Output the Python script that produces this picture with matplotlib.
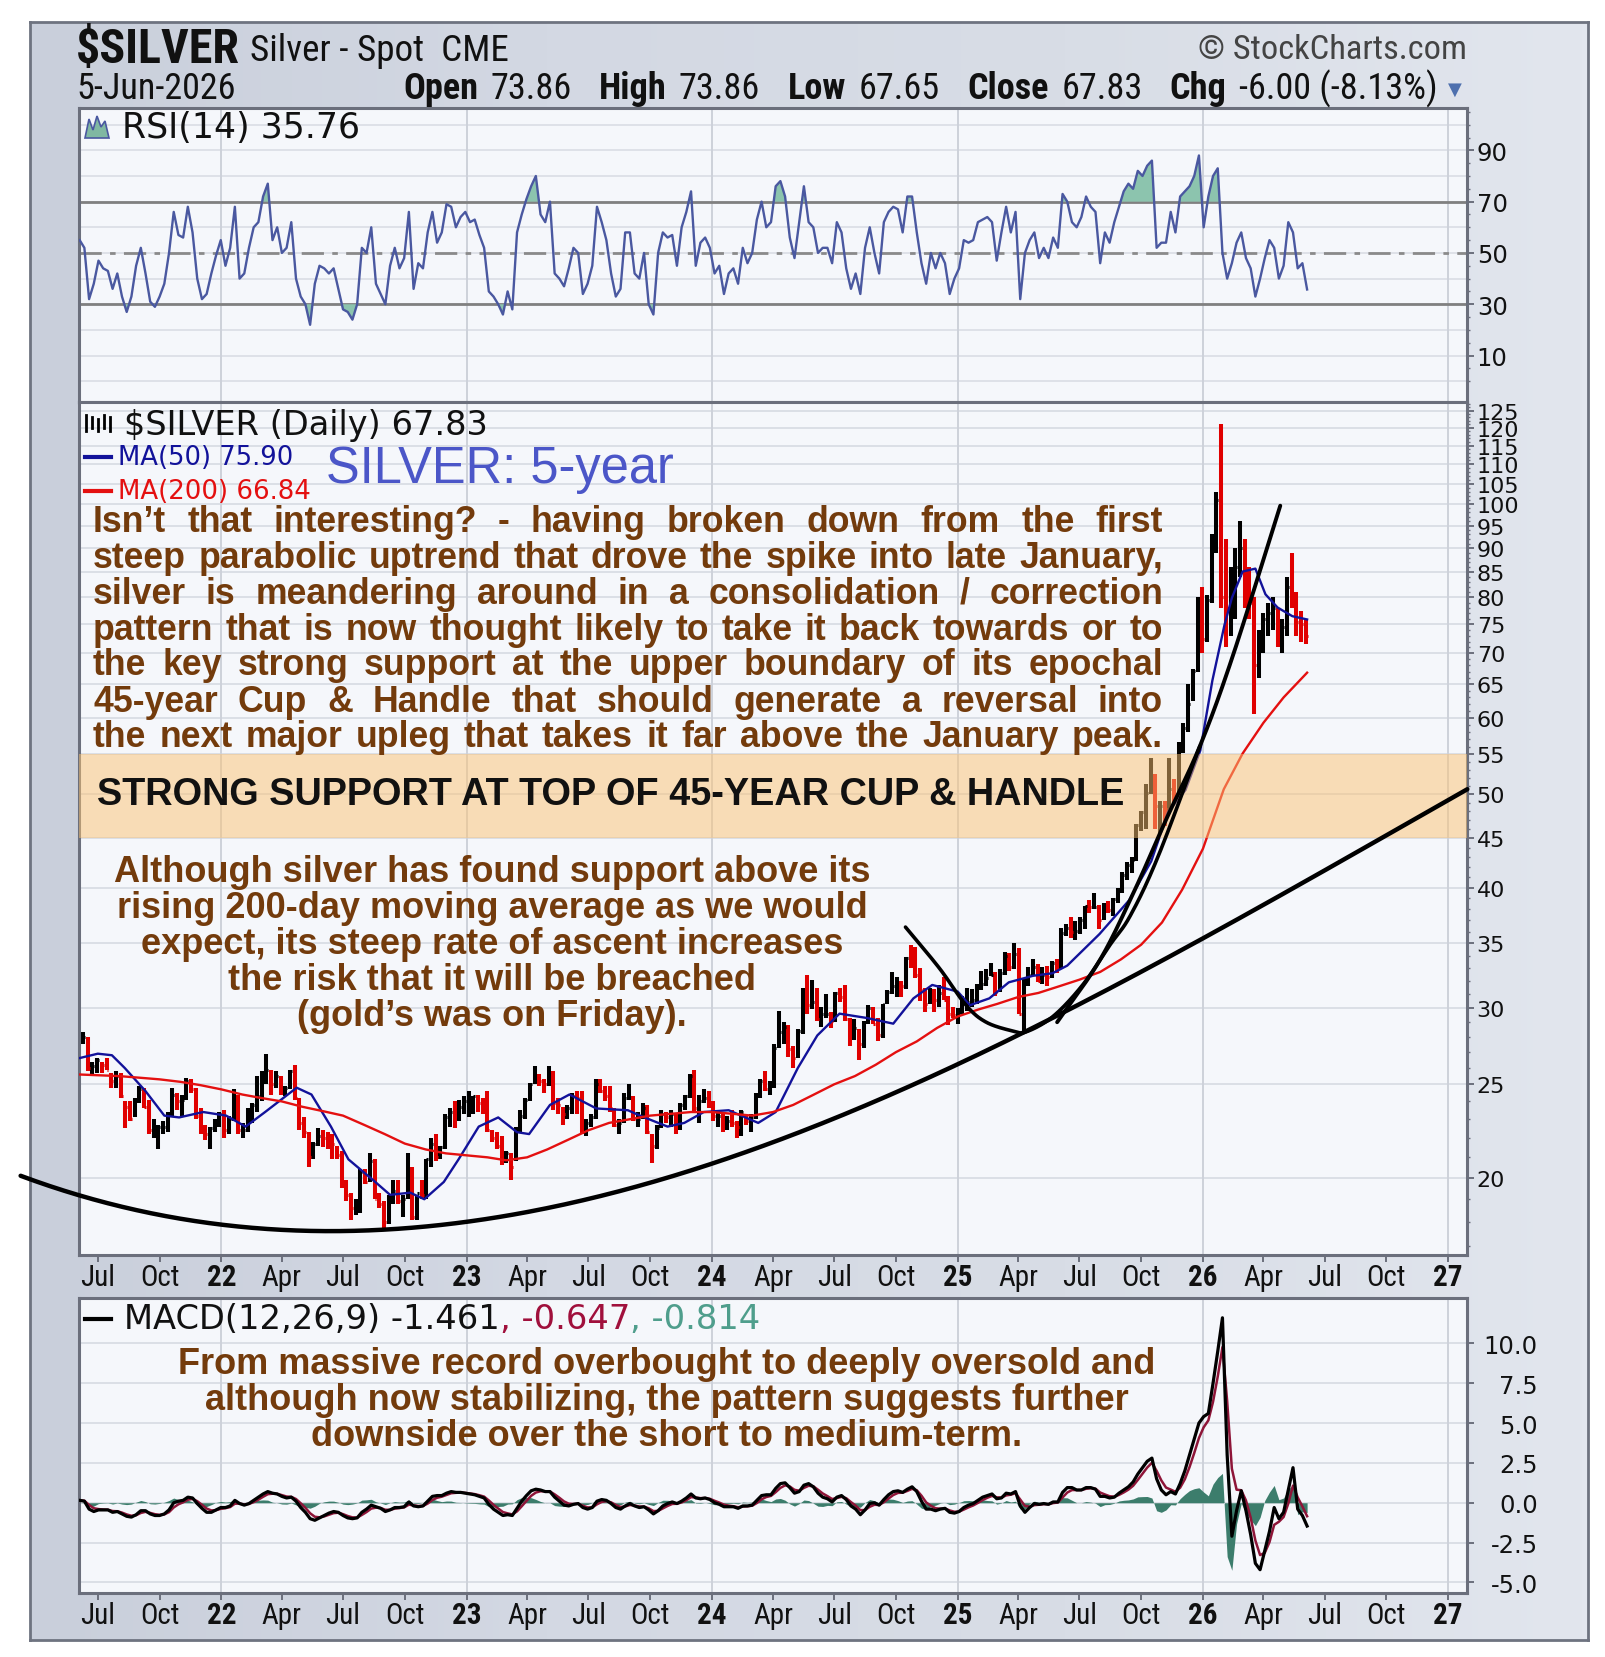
import numpy as np
import pandas as pd
import matplotlib
matplotlib.use("Agg")
import matplotlib.pyplot as plt
import matplotlib.dates as mdates
from matplotlib import font_manager as fm
from matplotlib.font_manager import FontProperties
from matplotlib.colors import LinearSegmentedColormap
from matplotlib.lines import Line2D
from matplotlib.patches import Polygon
from matplotlib.ticker import FixedLocator, FixedFormatter, NullFormatter

# ---------------------------------------------------------------- data
# weekly bars (high, low, close), one per Friday starting 2021-06-04
bars_2021 = [(28.3,27.4,27.9),(28.3,27.5,28.0),(28.0,25.8,26.0),(26.4,25.6,26.1),
             (26.6,25.7,26.5),(26.4,25.7,26.2),(26.6,25.9,25.9),(25.7,24.8,25.2),(25.8,24.8,25.5),
             (25.7,24.2,24.3),(24.0,22.5,23.7),(24.0,22.9,23.0),(24.2,23.1,24.0),
             (24.9,23.9,24.7),(24.8,23.6,23.7),(24.1,22.2,22.4),(23.0,22.0,22.5),
             (22.7,21.4,22.6),(22.9,22.2,22.6),(23.4,22.3,23.3),(24.8,23.2,24.4),(24.5,23.5,24.0),
             (24.4,23.2,24.1),(25.4,24.1,25.2),(25.3,24.5,24.7),(24.8,23.0,23.2),
             (23.6,22.2,22.5),(22.7,21.9,22.2),(22.6,21.4,22.5),(23.0,22.3,22.9),(23.4,22.6,23.3)]
bars_2022 = [(23.5,22.0,22.4),(23.2,22.2,23.0),(24.7,22.9,24.3),(24.4,22.2,22.4),
             (22.8,22.0,22.4),(23.6,22.3,23.0),(23.9,22.8,23.8),(25.5,23.4,24.3),
             (25.8,24.0,25.7),(26.9,25.0,25.9),(25.9,24.4,25.0),(25.8,24.8,25.5),
             (25.5,24.4,24.7),(24.9,24.3,24.8),(25.9,24.7,25.8),(26.2,24.1,24.2),(24.2,22.4,22.8),
             (23.1,22.0,22.3),(22.3,20.5,21.0),(21.8,20.9,21.7),(22.5,21.6,22.1),
             (22.4,21.5,22.0),(22.3,21.4,21.9),(22.2,20.9,21.7),(21.6,20.9,21.1),
             (21.3,19.5,19.8),(19.9,18.9,19.2),(19.3,18.1,18.6),(19.0,18.3,18.6),(20.4,18.4,20.3),
             (20.4,19.7,19.8),(21.2,19.8,20.8),(20.9,19.0,19.0),(19.3,18.6,18.8),
             (18.9,17.6,18.0),(19.2,17.9,18.9),(19.9,18.8,19.4),(19.9,18.8,18.9),(19.2,18.2,19.0),
             (21.2,19.0,20.1),(20.5,18.1,18.2),(19.2,18.1,19.3),(19.9,19.0,19.2),
             (20.9,19.0,20.9),(22.0,20.5,21.7),(22.2,20.8,21.0),(21.6,20.9,21.5),
             (23.3,21.4,23.1),(23.6,22.6,23.4),(24.0,22.5,23.2),(24.1,22.9,23.7),(24.3,23.3,24.0)]
bars_2023 = [(24.6,23.1,24.0),(24.3,23.3,24.3),(24.4,23.4,23.9),(24.2,23.3,23.6),
             (24.6,22.3,22.4),(22.4,21.8,22.0),(22.3,21.4,21.6),(22.1,20.6,20.8),
             (21.3,20.7,21.2),(21.2,19.9,20.5),(22.6,20.8,22.5),(23.5,22.3,23.2),(24.2,23.0,24.1),
             (25.1,24.0,25.0),(26.1,25.0,25.3),(25.6,24.9,25.2),(25.3,24.5,25.0),
             (26.1,24.9,25.6),(25.8,23.5,23.9),(24.2,23.3,23.8),(23.7,22.7,23.3),
             (23.8,23.0,23.6),(24.5,23.3,24.3),(24.6,23.3,24.2),(24.6,22.2,22.4),(23.0,22.1,22.8),
             (23.3,22.6,23.1),(25.3,23.0,25.0),(25.3,24.5,24.6),(24.9,24.0,24.3),
             (24.9,23.4,23.6),(23.6,22.6,22.7),(23.0,22.2,22.8),(24.5,22.8,24.2),
             (25.0,24.1,24.2),(24.3,22.9,23.0),(23.4,22.6,23.0),(23.9,23.0,23.6),(23.8,22.2,22.3),
             (22.2,20.7,21.6),(22.7,21.4,22.5),(23.5,22.5,23.3),(23.4,22.8,23.1),
             (23.5,22.6,23.3),(23.3,22.2,22.4),(23.9,22.4,23.8),(24.4,23.5,24.3),
             (25.6,24.2,25.5),(25.9,23.4,23.6),(24.4,22.8,24.0),(24.7,23.9,24.2),(24.6,23.6,23.8)]
bars_2024 = [(24.0,22.9,23.2),(23.4,22.6,23.2),(23.3,22.3,22.6),(23.2,22.4,22.9),
             (23.5,22.6,22.8),(22.9,22.0,22.6),(23.5,22.1,23.4),(23.2,22.7,22.9),
             (23.3,22.3,23.1),(24.5,23.0,24.3),(25.3,24.2,25.2),(25.8,24.6,24.7),(25.2,24.4,25.0),
             (27.5,24.8,27.3),(29.8,27.3,28.3),(29.0,27.5,28.7),(28.8,26.7,27.2),
             (27.4,26.0,26.6),(28.5,26.6,28.4),(31.5,28.2,31.3),(32.5,29.6,30.2),(32.1,29.9,30.4),
             (31.5,29.1,29.2),(30.1,28.7,29.6),(31.0,29.3,29.6),(29.7,28.6,29.1),
             (31.2,29.0,31.1),(31.5,30.4,30.8),(31.7,29.1,29.2),(29.3,27.4,28.0),
             (29.2,27.8,28.6),(28.5,26.5,27.5),(29.1,27.3,29.0),(30.2,28.9,30.0),(30.1,28.9,28.9),
             (29.3,27.7,28.1),(30.3,27.9,30.3),(31.3,30.3,31.2),(32.7,31.0,31.6),
             (32.3,30.8,32.2),(32.0,30.8,31.6),(33.9,31.4,33.8),(34.9,33.0,33.7),
             (34.7,32.2,32.5),(33.0,30.5,31.3),(31.5,29.7,30.3),(31.5,30.3,31.3),(31.4,29.7,30.6),
             (31.7,30.1,31.1),(32.3,30.6,30.6),(30.9,28.8,29.6),(30.1,29.3,29.5)]
bars_2025 = [(30.0,28.9,29.6),(30.9,29.6,30.4),(31.5,29.8,30.4),(31.4,30.1,30.6),(31.8,30.3,31.3),
             (32.8,31.3,31.8),(32.9,31.6,32.2),(33.4,32.4,32.5),(32.7,30.9,31.2),
             (32.9,31.2,32.6),(34.3,32.5,34.0),(34.2,32.8,33.1),(35.0,32.9,34.1),
             (34.6,29.6,29.6),(32.2,28.3,32.0),(33.1,31.6,32.5),(33.7,32.4,33.1),
             (33.3,31.9,32.0),(33.1,31.8,32.5),(33.2,31.6,32.3),(33.6,32.2,33.4),(33.7,32.6,33.0),
             (36.3,32.9,35.9),(36.7,35.6,36.3),(37.3,35.5,36.0),(36.9,35.3,36.1),
             (37.3,35.8,37.0),(38.3,36.2,38.3),(38.8,37.6,38.2),(39.5,38.0,38.2),
             (38.4,36.2,37.0),(38.6,37.0,38.3),(38.7,37.6,37.9),(39.0,37.4,38.9),(40.0,38.6,39.7),
             (41.5,39.5,41.2),(42.5,40.7,42.2),(43.0,41.4,42.7),(46.6,42.6,46.4),
             (48.0,45.8,47.9),(51.2,46.0,50.1),(54.5,50.0,51.2),(52.5,46.0,48.6),(49.2,45.5,48.6),
             (49.2,46.3,48.3),(54.5,47.8,50.6),(51.9,49.0,50.0),(56.7,49.5,56.4),
             (59.3,55.2,58.5),(65.0,58.0,62.0),(67.5,62.5,67.1),(80.0,67.0,79.0)]
bars_2026 = [(82.0,70.0,72.5),(80.5,72.0,79.5),(93.0,79.0,90.0),(103.0,89.0,101.0),(121.0,78.0,80.0),
             (92.0,71.0,78.0),(86.0,73.0,82.0),(90.0,76.0,86.0),(96.0,84.0,90.0),
             (92.0,78.0,82.0),(86.0,76.0,79.0),(80.0,60.5,68.0),(74.0,66.0,72.0),
             (77.0,70.0,76.0),(79.0,73.0,77.0),(80.0,74.0,78.0),(78.0,71.0,73.0),
             (76.0,70.0,74.5),(84.0,73.0,82.0),(89.0,78.0,80.0),(81.0,73.0,75.5),(77.5,72.0,75.0),
             (76.0,71.5,73.0)]

# weekly RSI(14)
rsi_2021 = [55,52,32,38, 47,44,43,36,42, 33,27,33,45, 52,42,31,29, 33,38,50,66,57,
            56,68,58,40, 32,34,42,49,55]
rsi_2022 = [45,52,68,40, 42,52,60,62, 72,77,55,60, 50,52,62,40,33, 30,22,38,45,
            44,42,44,36, 28,27,24,30,52, 50,60,38,34, 30,45,52,44,48, 66,36,46,44,
            58,66,54,58, 69,68,60,64,66]
rsi_2023 = [62,63,57,52, 35,33,30,26, 35,28,58,65,71, 76,80,65,62, 70,42,40,37,
            44,52,50,34,38, 45,68,62,55, 42,33,36,58, 58,42,40,50,30, 26,50,58,56,
            57,45,60,66, 74,45,54,56,52]
rsi_2024 = [42,45,34,42, 44,38,52,46, 50,63,70,60,62, 76,78,72,56, 48,62,76,62,60,
            50,52,52,46, 62,58,44,36, 42,34,52,60,50, 42,62,66,68, 67,58,72,72,
            58,46,38,50,44, 50,46,34,40]
rsi_2025 = [44,55,54,55,62, 63,64,62,47, 58,68,58,66, 32,50,55,58, 48,52,48,56,52,
            73,70,62,60, 64,72,68,66, 46,58,54,62,68, 74,77,75,82, 80,84,86,52,54,
            54,66,58,72, 74,76,80,88]
rsi_2026 = [60,72,80,83,50, 40,46,54,58, 48,44,33,40, 48,55,52,40, 45,62,58,44,46, 35.76]

# weekly MACD(12,26,9) line
macd_2021 = [0.15,0.1,-0.4,-0.55, -0.45,-0.45,-0.45,-0.6,-0.55, -0.7,-0.85,-0.9,-0.75,
             -0.5,-0.5,-0.7,-0.8, -0.8,-0.7,-0.45,0.0,0.1, 0.15,0.35,0.3,-0.05,
             -0.35,-0.6,-0.6,-0.45,-0.3]
macd_2022 = [-0.3,-0.2,0.15,-0.05, -0.15,-0.05,0.15,0.35, 0.55,0.7,0.6,0.55,
             0.4,0.3,0.35,0.1,-0.3, -0.6,-1.0,-1.1,-0.95, -0.8,-0.65,-0.55,-0.6,
             -0.8,-0.95,-1.0,-0.95,-0.6, -0.4,-0.15,-0.25,-0.35, -0.55,-0.45,-0.3,-0.3,-0.25,
             0.05,-0.2,-0.25,-0.2, 0.1,0.4,0.45,0.45, 0.6,0.7,0.65,0.65,0.6]
macd_2023 = [0.55,0.5,0.4,0.3, -0.1,-0.4,-0.6,-0.8, -0.75,-0.8,-0.35,0.1,0.45,
             0.75,0.85,0.8,0.7, 0.7,0.35,0.1,-0.15, -0.2,-0.1,-0.05,-0.3,-0.4,
             -0.3,0.1,0.2,0.15, -0.05,-0.3,-0.4,-0.2, -0.05,-0.2,-0.3,-0.25,-0.45,
             -0.7,-0.5,-0.2,-0.05, 0.05,-0.05,0.1,0.3, 0.55,0.3,0.25,0.3,0.2]
macd_2024 = [0.0,-0.1,-0.25,-0.25, -0.25,-0.35,-0.2,-0.2, -0.15,0.15,0.45,0.5,0.5,
             0.9,1.2,1.25,0.95, 0.6,0.7,1.1,1.2,1.0, 0.6,0.35,0.25,0.05,
             0.35,0.45,0.2,-0.2, -0.4,-0.75,-0.45,-0.05,0.0, -0.15,0.2,0.5,0.7,
             0.75,0.65,0.85,1.0, 0.7,0.1,-0.4,-0.4,-0.5, -0.4,-0.35,-0.6,-0.65]
macd_2025 = [-0.55,-0.3,-0.15,-0.05,0.15, 0.35,0.45,0.55,0.25, 0.3,0.6,0.55,0.7,
             -0.2,-0.6,-0.3,-0.05, -0.1,-0.05,-0.1,0.05,0.05, 0.65,0.95,0.95,0.8,
             0.8,0.95,0.95,0.85, 0.4,0.4,0.3,0.35,0.6, 0.8,1.0,1.3,1.8,
             2.2,2.6,2.8,1.5,0.8, 0.5,0.7,0.55,1.2, 2.0,3.0,4.0,5.0]
macd_2026 = [5.4,5.6,7.5,9.5,11.6, 3.0,-2.1,-0.5,0.75, -0.5,-2.0,-3.8,-4.2,
             -3.0,-1.8,-0.3,-1.0, -0.6,0.8,2.2,-0.4,-0.8, -1.461]

# moving averages
ma50_dates = ["2021-06-02","2021-07-01","2021-07-22","2021-08-10","2021-09-10","2021-10-08",
              "2021-10-30","2021-12-05","2022-01-08","2022-02-06","2022-03-07","2022-04-23",
              "2022-05-15","2022-06-13","2022-07-09","2022-08-18","2022-09-09","2022-10-09",
              "2022-10-30","2022-11-28","2022-12-20","2023-01-19","2023-02-17","2023-03-17",
              "2023-04-04","2023-05-05","2023-06-03","2023-07-13","2023-08-29","2023-09-16",
              "2023-10-27","2023-11-21","2023-12-20","2024-01-26","2024-03-10","2024-04-05",
              "2024-05-08","2024-06-06","2024-07-09","2024-08-18","2024-09-27","2024-10-27",
              "2024-11-24","2025-01-01","2025-01-19","2025-02-17","2025-03-18","2025-04-23",
              "2025-05-22","2025-06-13","2025-07-31","2025-09-13","2025-10-16","2025-11-10",
              "2025-12-06","2025-12-28","2026-01-15","2026-02-02","2026-02-13","2026-03-01",
              "2026-03-20","2026-04-04","2026-04-22","2026-05-14","2026-06-05"]
ma50_vals = [26.6,26.9,26.8,26.0,24.6,23.2, 23.1,23.4,23.2,22.6,23.4,24.8,
             24.4,22.6,20.9,19.8,19.2,19.3, 19.0,19.8,20.9,22.6,23.1,22.3,
             22.2,23.8,24.4,23.6,23.5,23.2, 22.6,22.8,23.4,23.5,22.8,23.4,
             26.0,28.1,29.6,29.3,28.9,30.7, 31.7,31.2,30.2,30.7,31.9,32.4,
             32.6,33.2,35.8,38.8,42.6,47.9, 50.5,55.5,65.6,74.9,79.9,85.1,
             85.7,80.6,78.1,76.5,75.9]
ma200_vals = [25.6,25.55,25.5,25.4,25.3,25.15,24.95,
              24.7,24.4,24.2,24.0,23.7,23.45,23.2,22.7,22.2,21.7,21.4,21.2,
              21.1,21.0,20.85,21.0,21.4,21.9,22.4,22.8,23.0,23.2,23.3,23.4,
              23.4,23.3,23.2,23.4,23.8,24.4,25.0,25.5,26.2,27.0,27.7,28.6,
              29.4,29.9,30.3,30.8,31.1,31.6,32.1,32.7,33.7,34.9,36.8,39.8,
              43.9,50.6,55.1,59.3,63.0,
              66.84]

# hand-drawn trend curves (decimal year, price)
cup_t = [2021.181,2021.418,2021.957,2022.517,2023.034,2023.509,2024.0,2024.522,
         2024.888,2025.306,2025.703,2026.556,2027.078]
cup_p = [20.10,19.31,17.90,17.41,17.81,19.26,21.09,23.21,25.29,28.70,31.91,42.34,50.9]
handle_t = [2024.789,2024.927,2025.034,2025.116,2025.224,2025.280,2025.388,2025.509,
            2025.621,2025.703,2025.815,2025.987]
handle_p = [36.4,33.0,30.2,29.0,28.4,28.35,29.4,31.7,34.9,37.4,43.0,56.1]
para_t = [2025.405,2025.578,2025.716,2025.853,2025.987,2026.121,2026.315]
para_p = [29.0,33.6,39.5,47.3,56.1,69.5,99.6]

price_ticks = [20,25,30,35,40,45,50,55,60,65,70,75,80,85,90,95,100,105,110,115,120,125]
rsi_ticks = [10,30,50,70,90]
macd_ticks = [-5.0,-2.5,0.0,2.5,5.0,7.5,10.0]

# ---------------------------------------------------------------- assemble
bars = bars_2021 + bars_2022 + bars_2023 + bars_2024 + bars_2025 + bars_2026
high = np.array([b[0] for b in bars])
low = np.array([b[1] for b in bars])
close = np.array([b[2] for b in bars])
rsi = np.array(rsi_2021 + rsi_2022 + rsi_2023 + rsi_2024 + rsi_2025 + rsi_2026, float)
macd = np.array(macd_2021 + macd_2022 + macd_2023 + macd_2024 + macd_2025 + macd_2026, float)
weeks = pd.date_range("2021-06-04", periods=len(close), freq="W-FRI")
signal = pd.Series(macd).ewm(alpha=0.5, adjust=False).mean().values
hist = macd - signal

xw = mdates.date2num(weeks.to_pydatetime())
xbar = xw - 2.0
ma50_x = mdates.date2num(pd.to_datetime(ma50_dates).to_pydatetime())
ma200_dates = list(pd.date_range("2021-06-01", "2026-05-01", freq="MS")) + [pd.Timestamp("2026-06-05")]
ma200_x = mdates.date2num(pd.DatetimeIndex(ma200_dates).to_pydatetime())


def yr2num(y):
    yi = int(np.floor(y))
    return mdates.date2num(pd.Timestamp(yi, 1, 1).to_pydatetime()) + (y - yi) * 365.25


def smooth(xs, ys, n=24):
    P = np.column_stack([xs, ys]).astype(float)
    P = np.vstack([2 * P[0] - P[1], P, 2 * P[-1] - P[-2]])
    out = []
    t = np.linspace(0, 1, n, endpoint=False)[:, None]
    for i in range(1, len(P) - 2):
        p0, p1, p2, p3 = P[i - 1], P[i], P[i + 1], P[i + 2]
        pts = 0.5 * ((2 * p1) + (-p0 + p2) * t + (2 * p0 - 5 * p1 + 4 * p2 - p3) * t ** 2
                     + (-p0 + 3 * p1 - 3 * p2 + p3) * t ** 3)
        out.append(pts)
    out.append(P[-2][None, :])
    A = np.vstack(out)
    return A[:, 0], A[:, 1]


# ---------------------------------------------------------------- fonts
def _is_cond(f):
    st = f.stretch
    if isinstance(st, str):
        return st in ("condensed", "semi-condensed", "extra-condensed", "ultra-condensed")
    try:
        return float(st) < 500
    except Exception:
        return False


def _wt(f):
    w = f.weight
    if isinstance(w, str):
        return {"bold": 700, "normal": 400, "regular": 400, "medium": 500, "semibold": 600,
                "light": 300, "black": 900, "heavy": 800, "book": 400}.get(w.lower(), 400)
    return int(w)


def find_narrow(bold):
    named = ["Liberation Sans Narrow", "Arial Narrow", "Roboto Condensed", "Open Sans Condensed"]
    cands = []
    for f in fm.fontManager.ttflist:
        if f.style != "normal":
            continue
        if f.name in named or _is_cond(f):
            w = _wt(f)
            if bold and w < 600:
                continue
            if (not bold) and not (350 <= w <= 500):
                continue
            if f.name in named:
                rank = named.index(f.name)
            elif f.name in ("Noto Sans", "DejaVu Sans"):
                rank = 5
            else:
                rank = 7
            cands.append((rank, abs(w - (700 if bold else 400)), f.fname))
    if cands:
        cands.sort()
        return cands[0][2]
    return None


NB_PATH = find_narrow(True)
NR_PATH = find_narrow(False)
HAVE_NARROW = NB_PATH is not None and NR_PATH is not None


def nkw(bold):
    if HAVE_NARROW:
        return {"fp": NB_PATH if bold else NR_PATH}
    return {"family": "DejaVu Sans", "weight": "bold" if bold else "normal"}


def nprop(bold, size):
    if HAVE_NARROW:
        return FontProperties(fname=NB_PATH if bold else NR_PATH, size=size)
    return FontProperties(family="DejaVu Sans", weight="bold" if bold else "normal", size=size)


SANS = ["Liberation Sans", "DejaVu Sans"]
PIX = ["DejaVu Sans"]
BROWN = "#733B0C"
EDGE = "#6B6F7C"
FACE = "#F5F7FB"

# ---------------------------------------------------------------- layout
W, H = 1605, 1658
PL, PR = 79, 1467
RSI_T, RSI_B = 109, 403
PRC_T, PRC_B = 403, 1256
MAC_T, MAC_B = 1299, 1594
XMIN = mdates.date2num(pd.Timestamp("2021-06-03").to_pydatetime())
XMAX = mdates.date2num(pd.Timestamp("2027-01-29").to_pydatetime())

fig = plt.figure(figsize=(W / 100, H / 100), dpi=100, facecolor="white")
R = fig.canvas.get_renderer()

bg = fig.add_axes([30 / W, 1 - 1641 / H, (1588 - 30) / W, (1641 - 23) / H], zorder=-10)
cmap = LinearSegmentedColormap.from_list("bg", ["#C9CFDB", "#D3D8E3", "#D8DDE6", "#E2E6EE"])
bg.imshow(np.linspace(0, 1, 256)[None, :], aspect="auto", cmap=cmap, extent=[0, 1, 0, 1])
bg.set_xticks([]); bg.set_yticks([])
for s in bg.spines.values():
    s.set_color("#6E7380"); s.set_linewidth(2.0)


def panel(top, bottom):
    ax = fig.add_axes([PL / W, 1 - bottom / H, (PR - PL) / W, (bottom - top) / H])
    ax.set_facecolor(FACE)
    for s in ax.spines.values():
        s.set_color(EDGE); s.set_linewidth(2.2)
    ax.yaxis.tick_right()
    ax.set_xlim(XMIN, XMAX)
    return ax


ax_r = panel(RSI_T, RSI_B)
ax_p = panel(PRC_T, PRC_B)
ax_m = panel(MAC_T, MAC_B)

quarters = pd.date_range("2021-07-01", "2027-01-01", freq="QS-JAN")
qx = mdates.date2num(quarters.to_pydatetime())
qlab = [("%02d" % (d.year % 100)) if d.month == 1 else d.strftime("%b") for d in quarters]
years = [mdates.date2num(pd.Timestamp(y, 1, 1).to_pydatetime()) for y in range(2022, 2028)]
XLS = 21 if HAVE_NARROW else 18

for ax in (ax_r, ax_p, ax_m):
    for yx in years:
        ax.axvline(yx, color="#CDD1DA", lw=1.4, zorder=0.5)
    ax.set_xticks(qx)
    ax.tick_params(axis="y", which="major", direction="out", length=5, width=1.4,
                   colors=EDGE, labelcolor="#111111", labelsize=17.5, pad=2)
    ax.tick_params(axis="y", which="minor", direction="out", length=2.5, width=1.0, colors=EDGE)
ax_p.tick_params(axis="y", which="major", labelsize=16)

for ax in (ax_p, ax_m):
    ax.set_xticklabels(qlab)
    ax.tick_params(axis="x", direction="out", length=5, width=1.4, colors=EDGE,
                   labelcolor="#111111", pad=1)
    for lbl in ax.get_xticklabels():
        lbl.set_fontproperties(nprop(lbl.get_text().isdigit(), XLS))
ax_r.tick_params(axis="x", length=0, labelbottom=False)

# ---------------- RSI
ax_r.set_ylim(-8.1, 106.5)
for g in range(0, 101, 10):
    ax_r.axhline(g, color="#DCDFE6", lw=1.3, zorder=0.4)
ax_r.axhline(70, color="#808080", lw=2.0, zorder=1)
ax_r.axhline(30, color="#808080", lw=2.0, zorder=1)
ax_r.axhline(50, color="#8A8A8A", lw=2.0, ls=(0, (8, 3, 2, 3)), zorder=1)
ax_r.fill_between(xw, 70, rsi, where=rsi >= 70, interpolate=True, color="#8CC4AE", lw=0, zorder=2)
ax_r.fill_between(xw, 30, rsi, where=rsi <= 30, interpolate=True, color="#8CC4AE", lw=0, zorder=2)
ax_r.plot(xw, rsi, color="#4A58A0", lw=1.7, zorder=3)
ax_r.yaxis.set_major_locator(FixedLocator(rsi_ticks))
ax_r.yaxis.set_major_formatter(FixedFormatter([str(v) for v in rsi_ticks]))
ax_r.yaxis.set_minor_locator(FixedLocator(list(range(0, 106, 5))))

# ---------------- price
ax_p.set_yscale("log")
ax_p.set_ylim(16.63, 127.6)
for p in price_ticks:
    ax_p.axhline(p, color="#D9DDE4", lw=1.3, zorder=0.4)
up = np.r_[True, close[1:] >= close[:-1]]
cols = np.where(up, "#000000", "#E00000")
ax_p.vlines(xbar, low, high, colors=cols, lw=2.9, zorder=2)
ax_p.hlines(close, xbar, xbar + 2.8, colors=cols, lw=2.2, zorder=2)
ax_p.plot(ma50_x, ma50_vals, color="#12129A", lw=1.7, zorder=3)
ax_p.plot(ma200_x, ma200_vals, color="#E41010", lw=1.7, zorder=3)
ax_p.axhspan(45, 55, facecolor="#FCC373", alpha=0.5, lw=0, zorder=4)

ct = np.array([yr2num(t) for t in cup_t])
c0 = ct.mean()
coef = np.polyfit(ct - c0, np.log(cup_p), 3)
cxx = np.linspace(ct[0], ct[-1], 400)
ax_p.plot(cxx, np.exp(np.polyval(coef, cxx - c0)), color="black", lw=3.2, zorder=5,
          clip_on=False, solid_capstyle="round")
hx, hy = smooth([yr2num(t) for t in handle_t], np.log(handle_p))
ax_p.plot(hx, np.exp(hy), color="black", lw=2.6, zorder=5, solid_capstyle="round")
px_, py_ = smooth([yr2num(t) for t in para_t], np.log(para_p))
ax_p.plot(px_, np.exp(py_), color="black", lw=2.8, zorder=5, solid_capstyle="round")

ax_p.yaxis.set_major_locator(FixedLocator(price_ticks))
ax_p.yaxis.set_major_formatter(FixedFormatter([str(v) for v in price_ticks]))
ax_p.yaxis.set_minor_locator(FixedLocator([v for v in range(17, 128) if v not in price_ticks]))
ax_p.yaxis.set_minor_formatter(NullFormatter())

# ---------------- MACD
ax_m.set_ylim(-5.66, 12.84)
for g in macd_ticks:
    ax_m.axhline(g, color="#D9DDE4", lw=1.3, zorder=0.4)
ax_m.fill_between(xw, 0, hist, color="#3C7D6C", lw=0, zorder=2)
ax_m.plot(xw, signal, color="#8E1538", lw=1.8, zorder=3)
ax_m.plot(xw, macd, color="black", lw=2.3, zorder=4)
ax_m.yaxis.set_major_locator(FixedLocator(macd_ticks))
ax_m.yaxis.set_major_formatter(FixedFormatter(["%.1f" % v for v in macd_ticks]))
ax_m.tick_params(axis="y", which="major", pad=46)
for lbl in ax_m.get_yticklabels():
    lbl.set_horizontalalignment("right")

# ---------------------------------------------------------------- text helpers


def txt(s, x, y, size, ha="left", fp=None, **kw):
    if fp is not None:
        return fig.text(x / W, 1 - y / H, s, ha=ha, va="center",
                        fontproperties=FontProperties(fname=fp, size=size), **kw)
    return fig.text(x / W, 1 - y / H, s, fontsize=size, ha=ha, va="center", **kw)


def width_of(s, size, **kw):
    t = txt(s, 0, 0, size, **kw)
    w = t.get_window_extent(R).width
    t.remove()
    return w


def fit(s, x0, x1, y, ha="left", **kw):
    size = 20 * (x1 - x0) / width_of(s, 20, **kw)
    return txt(s, x0 if ha == "left" else (x0 + x1) / 2, y, size, ha=ha, **kw)


def justify(lines, x0, x1, y0, dy, size, **kw):
    for i, line in enumerate(lines):
        y = y0 + i * dy
        words = line.split()
        ts = [txt(w, 0, y, size, **kw) for w in words]
        ws = [t.get_window_extent(R).width for t in ts]
        gap = (x1 - x0 - sum(ws)) / max(len(words) - 1, 1)
        x = x0
        for t, w in zip(ts, ws):
            t.set_x(x / W)
            x += w + gap


def fline(x0, x1, y, color, lw=3.0):
    fig.add_artist(Line2D([x0 / W, x1 / W], [1 - y / H, 1 - y / H], transform=fig.transFigure,
                          color=color, lw=lw))


# ---------------- header
fit("$SILVER", 76, 240, 50, color="#111111", **nkw(True))
fit("Silver - Spot  CME", 250, 508, 51, color="#111111", **nkw(False))
fit("\u00a9 StockCharts.com", 1198, 1467, 50, color="#444444", **nkw(False))
fit("5-Jun-2026", 76, 235, 89, color="#111111", **nkw(False))

pieces = [("Open", True), ("73.86", False), ("High", True), ("73.86", False), ("Low", True),
          ("67.65", False), ("Close", True), ("67.83", False), ("Chg", True), ("-6.00 (-8.13%)", False)]
fs_px = 20 * 100 / 72
ws = [width_of(s, 20, **nkw(b)) for s, b in pieces]
gaps = [0.35 * fs_px if i % 2 == 0 else 0.75 * fs_px for i in range(len(pieces) - 1)]
k = (1438 - 403) / (sum(ws) + sum(gaps))
x = 403
for i, (s, b) in enumerate(pieces):
    txt(s, x, 89, 20 * k, color="#111111", **nkw(b))
    if i < len(gaps):
        x += ws[i] * k + gaps[i] * k
txt("\u25BC", 1448, 90, 13, family=PIX, color="#4E70AE")

# ---------------- legends
fig.add_artist(Polygon([[85 / W, 1 - 139 / H], [89 / W, 1 - 120 / H], [93 / W, 1 - 131 / H],
                        [97 / W, 1 - 117 / H], [101 / W, 1 - 128 / H], [105 / W, 1 - 122 / H],
                        [109 / W, 1 - 139 / H]], closed=True, transform=fig.transFigure,
                       facecolor="#80B8A2", edgecolor="#4A58A0", lw=1.2))
fit("RSI(14) 35.76", 122, 360, 128, family=PIX, color="#111111")

for kk, xx in enumerate([86, 92, 98, 104, 110]):
    fig.add_artist(Line2D([xx / W, xx / W], [1 - (432 - (kk % 2) * 3) / H, 1 - (416 + (kk % 3) * 2) / H],
                          transform=fig.transFigure, color="black", lw=2.0))
fit("$SILVER (Daily) 67.83", 124, 488, 425, family=PIX, color="#111111")
fline(85, 111, 458, "#12129A")
fit("MA(50) 75.90", 118, 294, 458, family=PIX, color="#12129A")
fline(85, 111, 492, "#E41010")
fit("MA(200) 66.84", 118, 311, 492, family=PIX, color="#E41010")
fit("SILVER: 5-year", 326, 673, 469, family=SANS, color="#4B56C8")

fline(85, 111, 1320, "black")
ms = 20 * 375 / width_of("MACD(12,26,9) -1.461", 20, family=PIX)
x = 124
for s, c in [("MACD(12,26,9) -1.461", "#111111"), (", -0.647", "#A0103C"), (", -0.814", "#4F9E8C")]:
    t = txt(s, x, 1320, ms, family=PIX, color=c)
    x += t.get_window_extent(R).width

# ---------------- annotations
para1 = ["Isn\u2019t that interesting? - having broken down from the first",
         "steep parabolic uptrend that drove the spike into late January,",
         "silver is meandering around in a consolidation / correction",
         "pattern that is now thought likely to take it back towards or to",
         "the key strong support at the upper boundary of its epochal",
         "45-year Cup & Handle that should generate a reversal into",
         "the next major upleg that takes it far above the January peak."]
s1 = min(20 * 1050 / width_of(l, 20, weight="bold", family=SANS) for l in para1)
justify(para1, 93, 1163, 522, 36, s1, weight="bold", family=SANS, color=BROWN)

fit("STRONG SUPPORT AT TOP OF 45-YEAR CUP & HANDLE", 97, 1124, 795, weight="bold",
    family=SANS, color="#111111")

para2 = ["Although silver has found support above its",
         "rising 200-day moving average as we would",
         "expect, its steep rate of ascent increases",
         "the risk that it will be breached",
         "(gold\u2019s was on Friday)."]
s2 = 20 * 755 / width_of(para2[0], 20, weight="bold", family=SANS)
for i, l in enumerate(para2):
    txt(l, 492, 873 + 36 * i, s2, ha="center", weight="bold", family=SANS, color=BROWN)

para3 = ["From massive record overbought to deeply oversold and",
         "although now stabilizing, the pattern suggests further",
         "downside over the short to medium-term."]
s3 = 20 * 976 / width_of(para3[0], 20, weight="bold", family=SANS)
for i, l in enumerate(para3):
    txt(l, 667, 1365 + 36 * i, s3, ha="center", weight="bold", family=SANS, color=BROWN)

fig.savefig("out.png", dpi=100, facecolor="white")
